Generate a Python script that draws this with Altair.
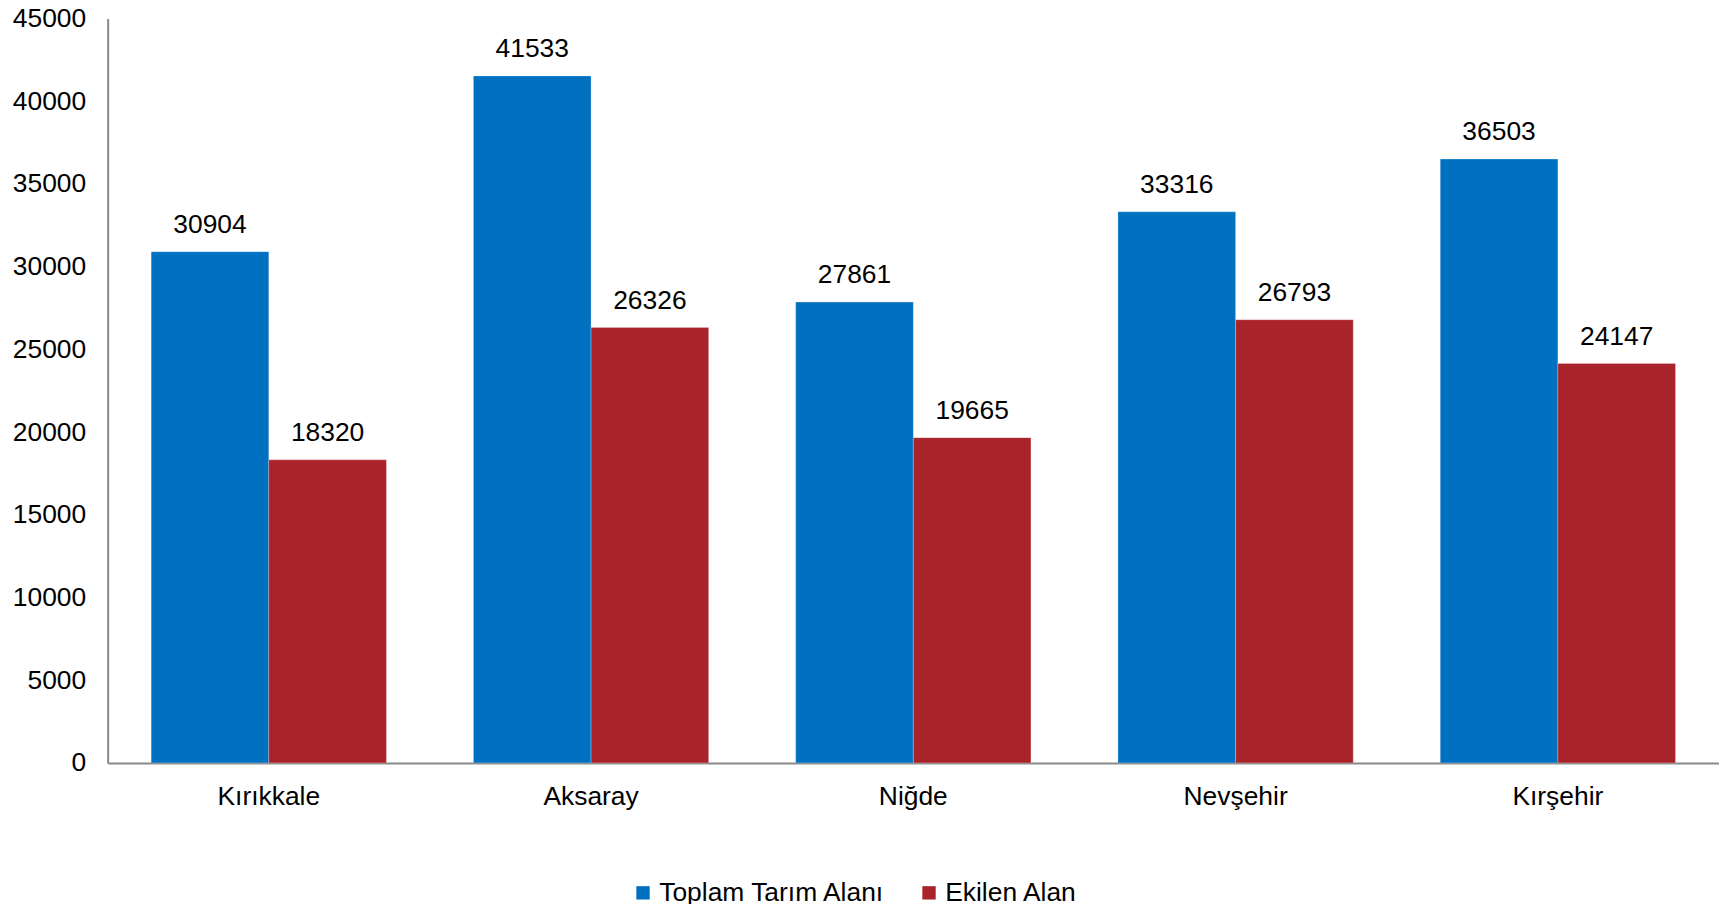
import altair as alt
import pandas as pd

categories = ["Kırıkkale", "Aksaray", "Niğde", "Nevşehir", "Kırşehir"]
series = ["Toplam Tarım Alanı", "Ekilen Alan"]
toplam = [30904, 41533, 27861, 33316, 36503]
ekilen = [18320, 26326, 19665, 26793, 24147]
y_ticks = [0, 5000, 10000, 15000, 20000, 25000, 30000, 35000, 40000, 45000]
colors = ["#0070C0", "#A9232B"]

rows = []
for c, a, b in zip(categories, toplam, ekilen):
    rows.append({"il": c, "seri": series[0], "deger": a})
    rows.append({"il": c, "seri": series[1], "deger": b})
df = pd.DataFrame(rows)

FONT = "Liberation Sans"
FS = 26.5

x = alt.X("il:N", sort=categories, title=None,
          scale=alt.Scale(paddingInner=0.27, paddingOuter=0.135),
          axis=alt.Axis(labelAngle=0, labelFontSize=FS, labelFont=FONT, labelColor="#000000",
                        labelPadding=21, ticks=False, domainColor="#898989", domainWidth=2))
xoff = alt.XOffset("seri:N", sort=series)
y = alt.Y("deger:Q", title=None,
          scale=alt.Scale(domain=[0, 45000], nice=False),
          axis=alt.Axis(values=y_ticks, format="d", grid=False, ticks=False, labelFontSize=FS,
                        labelFont=FONT, labelColor="#000000", labelPadding=22,
                        domainColor="#898989", domainWidth=2))

bars = alt.Chart(df).mark_bar(stroke="#ffffff", strokeWidth=0.5, strokeOpacity=0.5).encode(
    x=x, xOffset=xoff, y=y,
    color=alt.Color("seri:N", sort=series, scale=alt.Scale(domain=series, range=colors),
                    legend=alt.Legend(title=None, orient="none", direction="horizontal",
                                      legendX=524, legendY=864, symbolType="square",
                                      symbolSize=180, symbolStrokeWidth=0,
                                      labelFontSize=FS, labelFont=FONT, labelColor="#000000",
                                      labelLimit=0, labelOffset=3, columnPadding=30)),
)

labels = alt.Chart(df).mark_text(fontSize=FS, font=FONT, color="#000000", baseline="alphabetic", dy=-19).encode(
    x=x, xOffset=xoff, y=y, text=alt.Text("deger:Q", format="d"),
)

chart = alt.layer(bars, labels).properties(
    width=1617, height=747,
    autosize=alt.AutoSizeParams(type="none"),
    padding={"left": 100, "top": 9, "right": 0, "bottom": 140},
).configure_view(stroke=None)

chart.save("out.html", embed_options={"renderer": "svg", "actions": False})
